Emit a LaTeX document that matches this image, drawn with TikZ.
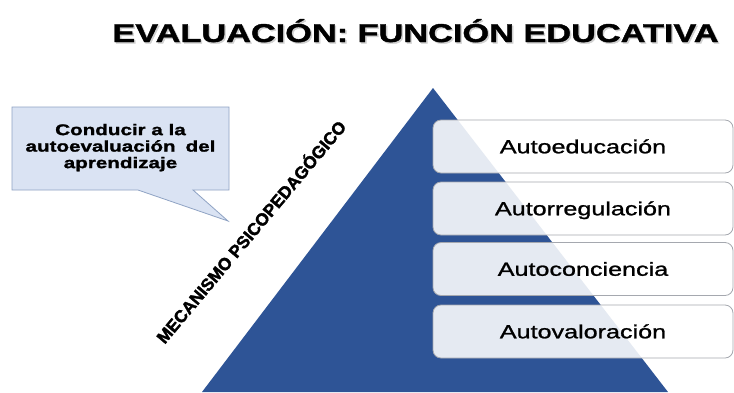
\documentclass[tikz,border=0pt]{standalone}
\usepackage{fontspec}
\setmainfont{Liberation Sans}
\newfontfamily\widefont[FakeStretch=1.33, BoldFeatures={FakeBold=1.5}]{Liberation Sans}
\newfontfamily\boxfont[FakeStretch=1.33, UprightFeatures={FakeBold=1.2}]{Liberation Sans}
\newfontfamily\heavyfont[BoldFeatures={FakeBold=2}]{Liberation Sans}
\definecolor{triblue}{RGB}{46,84,150}
\definecolor{callfill}{RGB}{218,227,243}
\definecolor{callline}{RGB}{143,163,196}
\definecolor{boxline}{RGB}{165,168,175}
\tikzset{
  levelbox/.style={rounded corners=8pt, fill=white, fill opacity=0.88, text opacity=1,
    draw=boxline, line width=0.8pt, minimum width=300pt, minimum height=53pt,
    inner sep=0pt, text height=13.5pt, text depth=0pt,
    font=\boxfont\fontsize{18.9}{22}\selectfont},
  titletext/.style={inner sep=0pt, anchor=base, font=\widefont\bfseries\fontsize{25.8}{30}\selectfont},
}
\begin{document}
\begin{tikzpicture}[x=1pt,y=-1pt]
\useasboundingbox (0,0) rectangle (734,392);
\fill[white] (0,0) rectangle (734,392);
% title with soft shadow
\node[titletext, text=black!18] (titleshadow) at (417,43.5) {EVALUACIÓN: FUNCIÓN EDUCATIVA};
\node[titletext] (title) at (415.5,42) {EVALUACIÓN: FUNCIÓN EDUCATIVA};
% pyramid
\coordinate (apex) at (433,88);
\coordinate (bl) at (202,392);
\coordinate (br) at (668,392);
\fill[triblue] (apex) -- (br) -- (bl) -- cycle;
% level boxes
\node[levelbox] (b1) at (583,146.5) {Autoeducación};
\node[levelbox] (b2) at (583,208.5) {Autorregulación};
\node[levelbox] (b3) at (583,269) {Autoconciencia};
\node[levelbox] (b4) at (583,331.5) {Autovaloración};
% rotated label
\node[inner sep=0pt, anchor=base, rotate=50, font=\heavyfont\bfseries\fontsize{17.2}{20}\selectfont]
  (mech) at (256,236) {MECANISMO PSICOPEDAGÓGICO};
% callout
\coordinate (tip) at (228,221);
\filldraw[fill=callfill, draw=callline, line width=0.8pt]
  (12,107) -- (229,107) -- (229,190) -- (193,190) -- (tip) -- (138,190) -- (12,190) -- cycle;
\node[inner sep=0pt, align=center, font=\widefont\bfseries\fontsize{15.5}{16.5}\selectfont]
  (calltext) at (120.5,147.6) {Conducir a la\\autoevaluación\hspace{10pt}del\\aprendizaje};
\end{tikzpicture}
\end{document}
